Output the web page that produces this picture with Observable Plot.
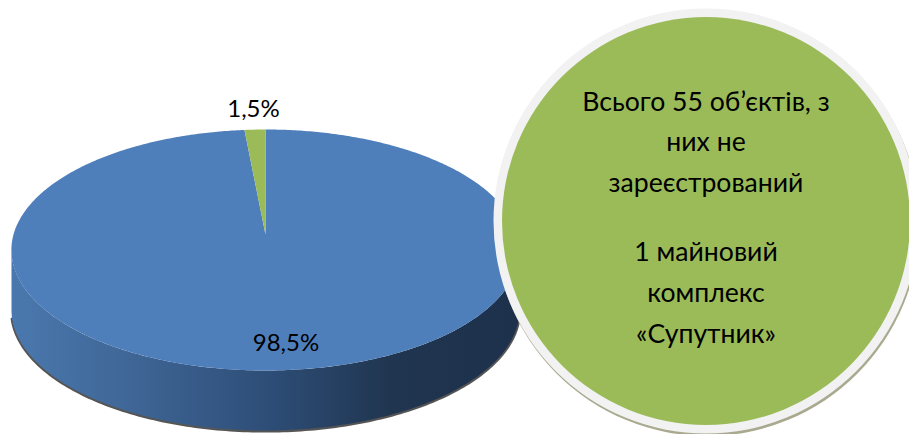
<!DOCTYPE html>
<html>
<head>
<meta charset="utf-8">
<script src="https://cdn.jsdelivr.net/npm/d3@7"></script>
<script src="https://cdn.jsdelivr.net/npm/@observablehq/plot@0.6"></script>
<style>html,body{margin:0;padding:0;background:#fff;overflow:hidden}svg{display:block}</style>
</head>
<body>
<div id="chart"></div>
<script>
// Data
const categories = ["Зареєстровані", "Не зареєстровані"];
const shares = [98.5, 1.5];
const shareLabels = ["98,5%", "1,5%"];
const sliceColors = ["#4f7fbb", "#9bbb59"];
const calloutLines = ["Всього 55 об’єктів, з", "них не", "зареєстрований", "1 майновий", "комплекс", "«Супутник»"];

// Layout
const W = 909, H = 434, FONT = "Lato, Carlito, 'Open Sans', sans-serif", FS = 24, CALLOUT_FS = 26.6;
const cx = 265, apexY = 234, a = 252, b = 118.5, k = 0.1286;
const rimCy = 249.5, rimA = 254, rimB = 120.5, depth = 60;
const callout = {x: 705.5, y: 220.5};
const calloutBaselines = [110, 150.5, 191.5, 260, 301.5, 342.5];
const labelPos = [{x: 285.5, y: 350}, {x: 253, y: 116.5}];

// Perspective projection of the tilted disc: angle clockwise from 12 o'clock.
const project = t => {
  const u = Math.sin(t), v = Math.cos(t), w = 1 + k * v;
  return {x: cx + a * u / w, y: apexY - b * v / w};
};
const arcs = d3.pie().sort(null).value(d => d)(shares);
const slices = arcs.map(s => {
  const n = Math.max(8, Math.ceil((s.endAngle - s.startAngle) * 90));
  const rim = d3.range(n + 1).map(i => project(s.startAngle + (s.endAngle - s.startAngle) * i / n));
  return [{x: cx, y: apexY}, ...rim];
});
// Front wall of the disc
const front = dy => d3.range(-90, 91, 1).map(d => {
  const t = d * Math.PI / 180;
  return {x: cx + rimA * Math.sin(t), y: rimCy + dy + rimB * Math.cos(t)};
});
const wall = [...front(0), ...front(depth).reverse()];

const gradient = () => {
  const defs = d3.create("svg:defs");
  const g = defs.append("linearGradient").attr("id", "wallFill")
    .attr("gradientUnits", "userSpaceOnUse")
    .attr("x1", cx - rimA).attr("x2", cx + rimA).attr("y1", 0).attr("y2", 0);
  [[0, "#4a78ae"], [0.2, "#41699a"], [0.5, "#2e4e78"], [0.75, "#20354f"], [1, "#1d314c"]]
    .forEach(([o, c]) => g.append("stop").attr("offset", o).attr("stop-color", c));
  return defs.node();
};

const chart = Plot.plot({
  width: W, height: H,
  margin: 0,
  x: {domain: [0, W], range: [0, W], axis: null},
  y: {domain: [0, H], range: [0, H], axis: null},
  style: {background: "#fff", fontFamily: FONT},
  marks: [
    gradient,
    // rim shadow and side wall
    Plot.line(front(depth).slice(4, 177), {x: "x", y: "y", stroke: "#2b2b2b", strokeWidth: 3, strokeOpacity: 0.8, dy: 0.6}),
    Plot.line(wall, {x: "x", y: "y", fill: "url(#wallFill)", stroke: "none"}),
    // top surface slices
    ...slices.map((pts, i) => Plot.line(pts, {x: "x", y: "y", fill: sliceColors[i], stroke: "none"})),
    // share labels
    Plot.text(shareLabels, {
      x: (_, i) => labelPos[i].x, y: (_, i) => labelPos[i].y, text: d => d,
      fontSize: FS, fill: "#000", lineAnchor: "bottom", fontFamily: FONT
    }),
    // callout circle
    Plot.dot([callout], {x: "x", y: "y", r: 212.5, fill: "#a8a98e", stroke: "none", dx: 1, dy: 2.5}),
    Plot.dot([callout], {x: "x", y: "y", r: 212.5, fill: "#f2f2f2", stroke: "none"}),
    Plot.dot([callout], {x: "x", y: "y", r: 204, fill: "#9bbb59", stroke: "none"}),
    Plot.text(calloutLines, {
      x: () => callout.x, y: (_, i) => calloutBaselines[i], text: d => d,
      fontSize: CALLOUT_FS, fill: "#000", lineAnchor: "bottom", fontFamily: FONT
    })
  ]
});
document.getElementById("chart").append(chart);
</script>
</body>
</html>
